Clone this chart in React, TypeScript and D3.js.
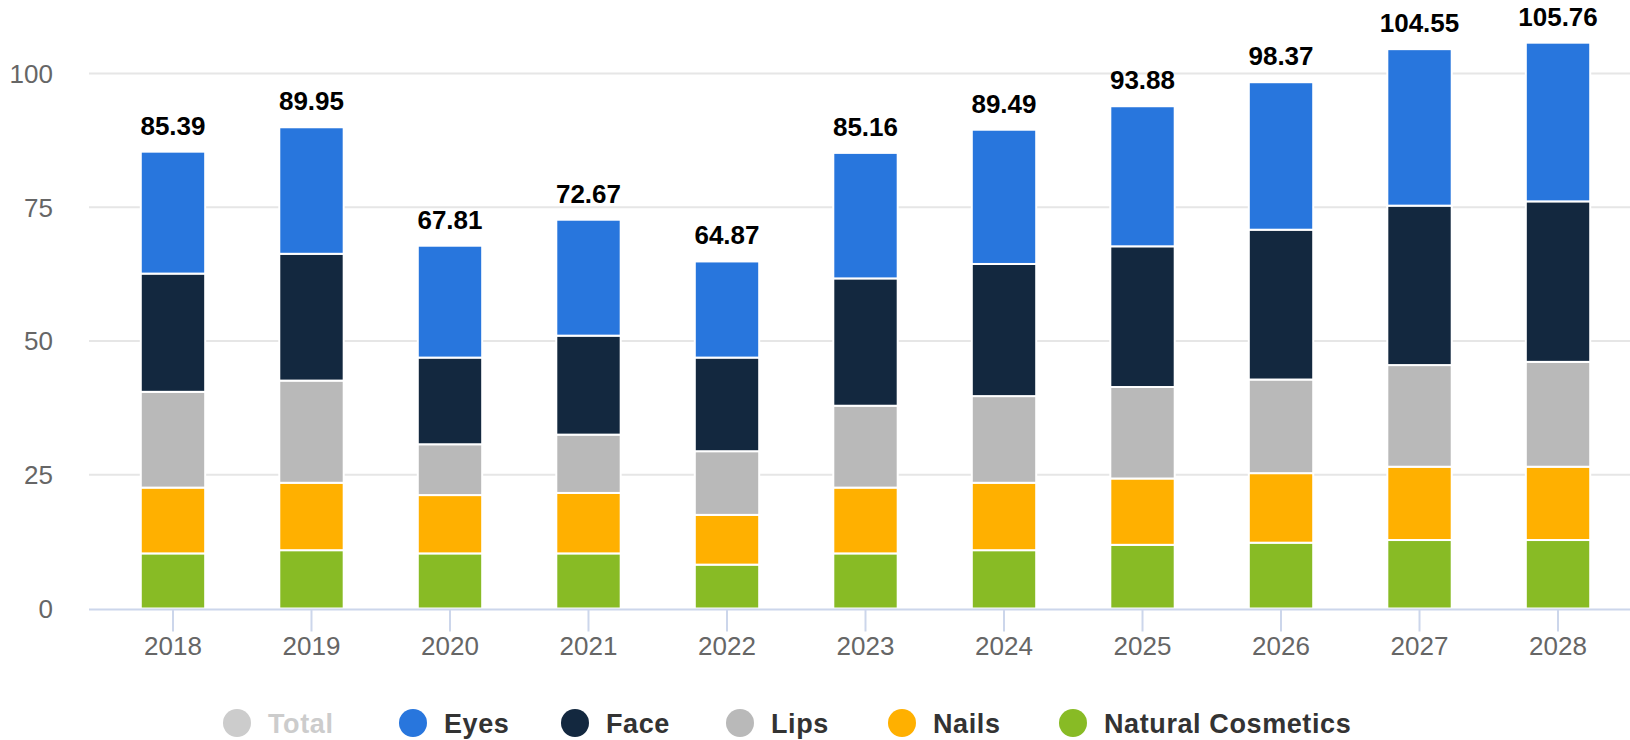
import { useEffect, useRef } from 'react'
import * as d3 from 'd3'

const years = ['2018', '2019', '2020', '2021', '2022', '2023', '2024', '2025', '2026', '2027', '2028']
const naturalCosmetics = [10.3, 10.9, 10.3, 10.3, 8.2, 10.3, 10.9, 11.9, 12.3, 12.8, 12.8]
const nails = [12.3, 12.6, 10.9, 11.3, 9.3, 12.3, 12.6, 12.4, 13.0, 13.7, 13.7]
const lips = [17.9, 19.1, 9.5, 10.9, 11.9, 15.3, 16.2, 17.1, 17.5, 19.0, 19.6]
const face = [22.1, 23.7, 16.2, 18.5, 17.5, 23.8, 24.7, 26.3, 28.0, 29.8, 30.0]
const eyes = [22.79, 23.65, 20.91, 21.67, 17.97, 23.46, 25.09, 26.18, 27.57, 29.25, 29.66]
const totals = [85.39, 89.95, 67.81, 72.67, 64.87, 85.16, 89.49, 93.88, 98.37, 104.55, 105.76]
const yTicks = [0, 25, 50, 75, 100]

// stacking order bottom -> top
const seriesNames = ['Natural Cosmetics', 'Nails', 'Lips', 'Face', 'Eyes']
const seriesValues = [naturalCosmetics, nails, lips, face, eyes]
const seriesColors = ['#88bb25', '#ffb000', '#b9b9b9', '#13283f', '#2876dd']

const legendNames = ['Total', 'Eyes', 'Face', 'Lips', 'Nails', 'Natural Cosmetics']
const legendColors = ['#cccccc', '#2876dd', '#13283f', '#b9b9b9', '#ffb000', '#88bb25']
const legendX = [237, 413, 575, 740, 902, 1073]

const WIDTH = 1630
const HEIGHT = 740
const FONT = '"Liberation Sans", Arial, Helvetica, sans-serif'

export default function App() {
  const svgRef = useRef<SVGSVGElement>(null)

  useEffect(() => {
    if (!svgRef.current) return
    const svg = d3.select(svgRef.current)
    svg.selectAll('*').remove()

    const gridLeft = 89
    const plotLeft = 102
    const plotRight = 1629

    const x = d3.scaleBand<string>()
      .domain(years)
      .range([plotLeft, plotRight])
      .paddingInner(0.535)
      .paddingOuter(0.28)

    const y = d3.scaleLinear().domain([0, 100]).range([608.5, 73.5])

    // grid lines
    svg.append('g')
      .selectAll('line')
      .data(yTicks.filter(t => t !== 0))
      .enter()
      .append('line')
      .attr('x1', gridLeft)
      .attr('x2', WIDTH)
      .attr('y1', d => y(d))
      .attr('y2', d => y(d))
      .attr('stroke', '#e6e6e6')
      .attr('stroke-width', 2)

    // y labels
    svg.append('g')
      .selectAll('text')
      .data(yTicks)
      .enter()
      .append('text')
      .attr('x', 53)
      .attr('y', d => y(d))
      .attr('dy', '0.36em')
      .attr('text-anchor', 'end')
      .attr('font-family', FONT)
      .attr('font-size', 26)
      .attr('fill', '#666666')
      .text(d => String(d))

    // stacked bars
    const rows = years.map((yr, i) => {
      const row: Record<string, number | string> = { year: yr }
      seriesNames.forEach((s, j) => { row[s] = seriesValues[j][i] })
      return row
    })
    const stack = d3.stack<Record<string, number | string>>().keys(seriesNames)
    const layers = stack(rows as any)

    layers.forEach((layer, j) => {
      svg.append('g')
        .selectAll('rect')
        .data(layer)
        .enter()
        .append('rect')
        .attr('x', d => x(String(d.data.year)) as number)
        .attr('width', x.bandwidth())
        .attr('y', d => y(d[1]))
        .attr('height', d => y(d[0]) - y(d[1]))
        .attr('fill', seriesColors[j])
        .attr('stroke', '#ffffff')
        .attr('stroke-width', 2)
    })

    // x axis line
    svg.append('line')
      .attr('x1', gridLeft)
      .attr('x2', WIDTH)
      .attr('y1', y(0) + 1)
      .attr('y2', y(0) + 1)
      .attr('stroke', '#ccd6eb')
      .attr('stroke-width', 2)

    // ticks + labels
    const xg = svg.append('g')
    xg.selectAll('line')
      .data(years)
      .enter()
      .append('line')
      .attr('x1', d => (x(d) as number) + x.bandwidth() / 2)
      .attr('x2', d => (x(d) as number) + x.bandwidth() / 2)
      .attr('y1', y(0) + 1)
      .attr('y2', y(0) + 23)
      .attr('stroke', '#ccd6eb')
      .attr('stroke-width', 2)
    xg.selectAll('text')
      .data(years)
      .enter()
      .append('text')
      .attr('x', d => (x(d) as number) + x.bandwidth() / 2)
      .attr('y', 655)
      .attr('text-anchor', 'middle')
      .attr('font-family', FONT)
      .attr('font-size', 26)
      .attr('fill', '#666666')
      .text(d => d)

    // total labels
    svg.append('g')
      .selectAll('text')
      .data(years)
      .enter()
      .append('text')
      .attr('x', d => (x(d) as number) + x.bandwidth() / 2)
      .attr('y', (_d, i) => y(totals[i]) - 17)
      .attr('text-anchor', 'middle')
      .attr('font-family', FONT)
      .attr('font-size', 26)
      .attr('font-weight', 'bold')
      .attr('fill', '#000000')
      .text((_d, i) => totals[i].toFixed(2))

    // legend
    const legend = svg.append('g')
    legendNames.forEach((name, i) => {
      const item = legend.append('g').attr('transform', `translate(${legendX[i]},723)`)
      item.append('circle')
        .attr('r', 14)
        .attr('fill', legendColors[i])
      item.append('text')
        .attr('x', 31)
        .attr('dy', '0.36em')
        .attr('font-family', FONT)
        .attr('font-size', 27)
        .attr('font-weight', 'bold')
        .attr('letter-spacing', 0.6)
        .attr('fill', i === 0 ? '#cccccc' : '#333333')
        .text(name)
    })
  }, [])

  return (
    <svg
      ref={svgRef}
      width={WIDTH}
      height={HEIGHT}
      style={{ position: 'absolute', left: 0, top: 0, background: '#ffffff' }}
    />
  )
}
